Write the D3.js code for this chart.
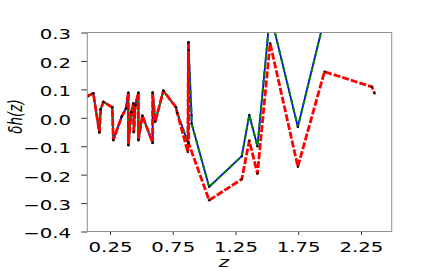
<!DOCTYPE html>
<meta charset="utf-8">
<style>
body { margin: 0; background: #fff; }
text { font-family: "DejaVu Sans", sans-serif; fill: #000; }
.line { fill: none; stroke-linejoin: round; }
</style>
<svg width="436" height="273"></svg>
<script src="https://d3js.org/d3.v7.min.js"></script>
<script>

// data
var zRed = [0.069, 0.117, 0.165, 0.176, 0.197, 0.268, 0.276, 0.343, 0.378, 0.396, 0.396, 0.42, 0.436, 0.44, 0.452, 0.476, 0.476, 0.508, 0.59, 0.59, 0.61, 0.675, 0.776, 0.785, 0.87, 0.875, 0.877, 1.04, 1.30, 1.36, 1.425, 1.526, 1.747, 1.959, 2.337, 2.358];
var redVals = [0.076, 0.086, -0.051, 0.03, 0.056, 0.037, -0.078, 0.004, 0.033, 0.088, -0.096, 0.02, 0.05, -0.05, 0.045, 0.088, -0.078, 0.007, -0.088, 0.088, -0.014, 0.095, 0.037, 0.018, -0.12, 0.265, -0.09, -0.29, -0.216, -0.081, -0.196, 0.262, -0.172, 0.162, 0.109, 0.086];

var zGreen = [0.069, 0.117, 0.165, 0.176, 0.197, 0.268, 0.276, 0.343, 0.378, 0.396, 0.396, 0.42, 0.436, 0.44, 0.452, 0.476, 0.476, 0.508, 0.59, 0.59, 0.61, 0.675, 0.776, 0.785, 0.87, 0.875, 0.877, 0.9, 0.9, 1.04, 1.30, 1.36, 1.425, 1.526, 1.747, 1.959, 2.337, 2.358];
var greenVals = [0.076, 0.086, -0.051, 0.03, 0.056, 0.037, -0.078, 0.004, 0.033, 0.088, -0.096, 0.02, 0.05, -0.05, 0.045, 0.088, -0.078, 0.007, -0.088, 0.088, -0.014, 0.095, 0.037, 0.018, -0.085, 0.265, 0.238, 0.01, -0.02, -0.243, -0.135, 0.01, -0.1, 0.37, -0.032, 0.35, 0.5, 0.48];
var blueVals = greenVals.slice();

var xTicks = [0.25, 0.75, 1.25, 1.75, 2.25];
var yTicks = [-0.4, -0.3, -0.2, -0.1, 0.0, 0.1, 0.2, 0.3];

var svg = d3.select("svg");
var pLeft = 87.3, pRight = 391.7, pTop = 32.5, pBottom = 231.5;
var sx = 1.46; // picture is stretched sideways

var x = d3.scaleLinear().domain([0.069, 2.495]).range([pLeft, pRight]);
var y = d3.scaleLinear().domain([-0.4, 0.3]).range([pBottom, pTop]);

svg.append("clipPath").attr("id", "clip")
  .append("rect").attr("x", pLeft).attr("y", pTop)
  .attr("width", pRight - pLeft).attr("height", pBottom - pTop);

function pts(zs, vs) {
  return zs.map(function(z, i) { return [z, vs[i]]; });
}

var line = d3.line()
    .x(function(d) { return x(d[0]); })
    .y(function(d) { return y(d[1]); });

var plot = svg.append("g").attr("clip-path", "url(#clip)");

plot.append("path").attr("class", "line")
  .style("stroke", "#0000ff").style("stroke-width", "1.8px")
  .attr("d", line(pts(zGreen, blueVals)));

plot.append("path").attr("class", "line")
  .style("stroke", "#008000").style("stroke-width", "2px")
  .style("stroke-dasharray", "5.5,3")
  .attr("d", line(pts(zGreen, greenVals)));

plot.append("path").attr("class", "line")
  .style("stroke", "#ff0000").style("stroke-width", "2.8px")
  .style("stroke-dasharray", "7,2")
  .attr("d", line(pts(zRed, redVals)));

// small black markers on top
var dots = pts(zGreen, greenVals).concat(pts(zRed, redVals));
plot.selectAll("circle").data(dots).enter().append("circle")
  .attr("cx", function(d) { return x(d[0]); })
  .attr("cy", function(d) { return y(d[1]); })
  .attr("r", 1.2)
  .attr("fill", "#111");

// axes
var fmtY = function(d) { return d3.format(".1f")(d).replace("-", "\u2212"); };

var gx = svg.append("g")
  .attr("transform", "translate(0," + pBottom + ")")
  .call(d3.axisBottom(x).tickValues(xTicks).tickSize(3.5).tickFormat(d3.format(".2f")));

var gy = svg.append("g")
  .attr("transform", "translate(" + pLeft + ",0)")
  .call(d3.axisLeft(y).tickValues(yTicks).tickSize(6).tickFormat(fmtY));

svg.selectAll(".domain").remove();
svg.selectAll(".tick line").attr("stroke", "#333");

gx.selectAll("text")
  .attr("y", 0).attr("dy", 0)
  .attr("font-size", 13.5)
  .attr("transform", "translate(0,20.2) scale(" + sx + ",1)");

gy.selectAll("text")
  .attr("x", -16.3 / sx).attr("dy", 6.4)
  .attr("font-size", 13.5)
  .attr("transform", "scale(" + sx + ",1)");

// frame
svg.append("rect")
  .attr("x", pLeft).attr("y", pTop)
  .attr("width", pRight - pLeft).attr("height", pBottom - pTop)
  .attr("fill", "none").attr("stroke", "#8f8f8f").attr("stroke-width", 1);

// labels
svg.append("text")
  .attr("transform", "translate(224,267) scale(" + sx + ",1)")
  .attr("text-anchor", "middle")
  .attr("font-size", 13.5).attr("font-style", "italic")
  .text("z");

svg.append("text")
  .attr("transform", "translate(22,116.5) scale(" + sx + ",1) rotate(-90)")
  .attr("text-anchor", "middle")
  .attr("font-size", 13.5).attr("font-style", "italic")
  .text("\u03b4h(z)");

</script>
